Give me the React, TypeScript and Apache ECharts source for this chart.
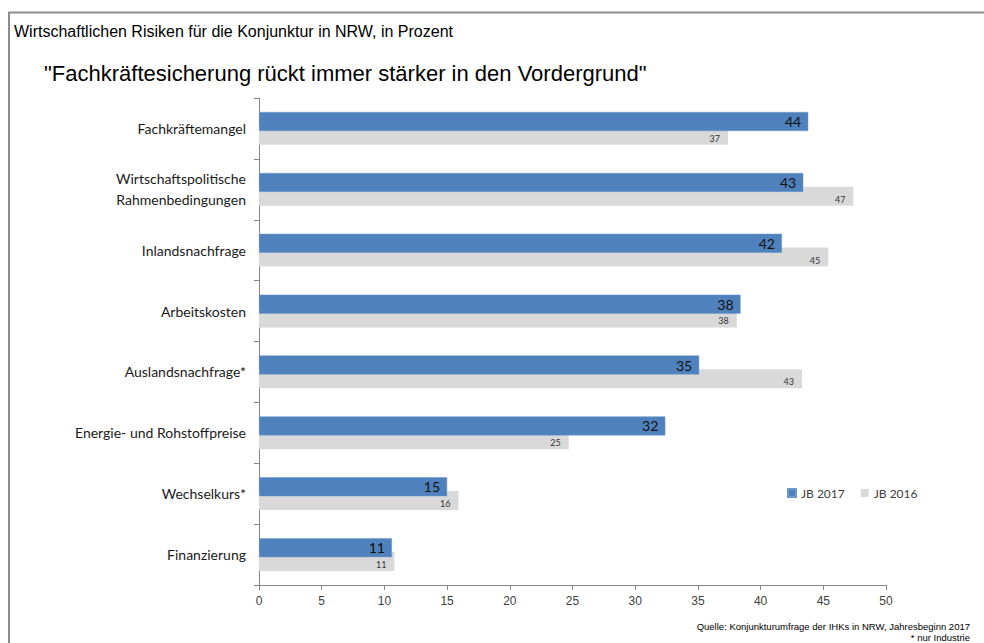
import React, { useEffect, useRef } from "react";
import * as echarts from "echarts";

const categories = [
  "Fachkräftemangel",
  "Wirtschaftspolitische\nRahmenbedingungen",
  "Inlandsnachfrage",
  "Arbeitskosten",
  "Auslandsnachfrage*",
  "Energie- und Rohstoffpreise",
  "Wechselkurs*",
  "Finanzierung",
];
const jb2017 = [43.8, 43.4, 41.7, 38.4, 35.1, 32.4, 15.0, 10.6];
const jb2016 = [37.4, 47.4, 45.4, 38.1, 43.3, 24.7, 15.9, 10.8];
const xTicks = { min: 0, max: 50, interval: 5 };

const titleText = "Wirtschaftlichen Risiken für die Konjunktur in NRW, in Prozent";
const subtitleText = '"Fachkräftesicherung rückt immer stärker in den Vordergrund"';
const sourceText = "Quelle: Konjunkturumfrage der IHKs in NRW, Jahresbeginn 2017";
const noteText = "* nur Industrie";

export default function App() {
  const ref = useRef<HTMLDivElement>(null);
  useEffect(() => {
    document.body.style.margin = "0";
    const chart = echarts.init(ref.current!, null, { renderer: "svg" });
    const catFont = "Lato, 'Open Sans', sans-serif";
    chart.setOption({
      animation: false,
      backgroundColor: "#ffffff",
      grid: { left: 259, right: 98, top: 98, bottom: 58, containLabel: false },
      legend: {
        left: 782,
        top: 482,
        itemWidth: 8,
        itemHeight: 8,
        itemGap: 16,
        icon: "rect",
        textStyle: { fontFamily: catFont, fontSize: 12, color: "#404040" },
        data: ["JB 2017", "JB 2016"],
      },
      xAxis: {
        type: "value",
        min: xTicks.min,
        max: xTicks.max,
        interval: xTicks.interval,
        splitLine: { show: false },
        axisLine: { show: true, lineStyle: { color: "#868686", width: 1 } },
        axisTick: { show: true, length: 5, lineStyle: { color: "#868686" } },
        axisLabel: {
          fontFamily: "'Liberation Sans Narrow', 'Arial Narrow', Arial, sans-serif",
          fontSize: 12,
          color: "#404040",
          margin: 10,
        },
      },
      yAxis: {
        type: "category",
        inverse: true,
        data: categories,
        axisLine: { show: true, lineStyle: { color: "#868686", width: 1 } },
        axisTick: { show: true, length: 5, lineStyle: { color: "#868686" } },
        axisLabel: {
          fontFamily: catFont,
          fontSize: 14,
          color: "#1a1a1a",
          margin: 13,
          lineHeight: 21,
        },
      },
      series: [
        {
          name: "JB 2017",
          type: "bar",
          data: jb2017,
          barWidth: 19,
          barGap: "-27%",
          z: 3,
          itemStyle: { color: "#4F81BD", borderColor: "#6d98cc", borderWidth: 0.5 },
          label: {
            show: true,
            position: "insideRight",
            distance: 7,
            fontFamily: catFont,
            fontSize: 14,
            color: "#111111",
            formatter: (p: any) => String(Math.round(p.value)),
          },
        },
        {
          name: "JB 2016",
          type: "bar",
          data: jb2016,
          barWidth: 19,
          z: 2,
          itemStyle: { color: "#D9D9D9" },
          label: {
            show: true,
            position: "insideRight",
            distance: 8,
            offset: [0, 3],
            fontFamily: catFont,
            fontSize: 9,
            color: "#333333",
            formatter: (p: any) => String(Math.round(p.value)),
          },
        },
      ],
      graphic: [
        {
          type: "polyline",
          shape: { points: [[9, 643], [9, 12.5], [984, 12.5]] },
          style: { stroke: "#8c8c8c", lineWidth: 2, fill: null },
          silent: true,
        },
        {
          type: "text",
          left: 14,
          top: 23,
          style: {
            text: titleText,
            fontFamily: "'Liberation Sans', Arial, sans-serif",
            fontSize: 16,
            fill: "#000000",
          },
        },
        {
          type: "text",
          left: 44,
          top: 62,
          style: {
            text: subtitleText,
            fontFamily: "'Liberation Sans', Arial, sans-serif",
            fontSize: 22,
            fill: "#000000",
          },
        },
        {
          type: "text",
          right: 14,
          top: 621,
          style: {
            text: sourceText,
            fontFamily: "'Liberation Sans Narrow', 'Arial Narrow', Arial, sans-serif",
            fontSize: 9.5,
            fill: "#000000",
          },
        },
        {
          type: "text",
          right: 14,
          top: 632,
          style: {
            text: noteText,
            fontFamily: "'Liberation Sans Narrow', 'Arial Narrow', Arial, sans-serif",
            fontSize: 9.5,
            fill: "#000000",
          },
        },
      ],
    });
    return () => chart.dispose();
  }, []);
  return (
    <div
      ref={ref}
      style={{ position: "fixed", left: 0, top: 0, width: 984, height: 643 }}
    />
  );
}
